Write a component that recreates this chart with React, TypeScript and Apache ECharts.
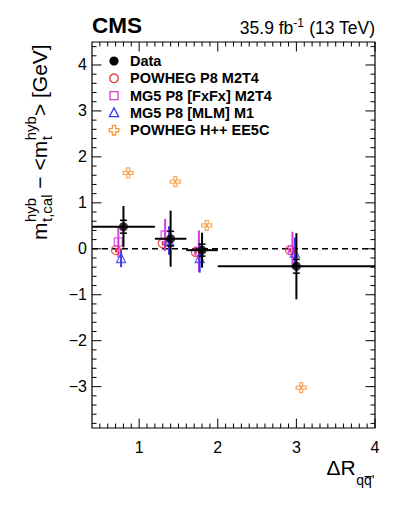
import React, { useEffect, useRef } from "react";
import * as echarts from "echarts";

// ---------------- data ----------------
const binLow = [0.4, 1.2, 1.6, 2.0];
const binHigh = [1.2, 1.6, 2.0, 4.0];
const dataX = [0.8, 1.4, 1.8, 3.0];
const dataY = [0.48, 0.22, -0.03, -0.38];
const dataTotErr = [0.45, 0.61, 0.38, 0.72];
const dataStatErr = [0.14, 0.16, 0.13, 0.15];

const p8X = [0.705, 1.3, 1.72, 2.92];
const p8Y = [-0.03, 0.12, -0.07, -0.03];
const p8Err = [0.05, 0.05, 0.05, 0.05];

const fxfxX = [0.735, 1.33, 1.76, 2.95];
const fxfxY = [0.15, 0.3, -0.05, -0.03];
const fxfxErr = [0.34, 0.35, 0.45, 0.4];

const mlmX = [0.77, 1.38, 1.77, 2.98];
const mlmY = [-0.2, 0.18, -0.2, -0.085];
const mlmErr = [0.2, 0.31, 0.32, 0.33];

const hppX = [0.86, 1.46, 1.86, 3.06];
const hppY = [1.65, 1.46, 0.51, -3.02];
const hppErr = [0.04, 0.04, 0.04, 0.04];

const xTickLabels = [1, 2, 3, 4];
const yTickLabels = [-3, -2, -1, 0, 1, 2, 3, 4];

const seriesNames = [
  "Data",
  "POWHEG P8 M2T4",
  "MG5 P8 [FxFx] M2T4",
  "MG5 P8 [MLM] M1",
  "POWHEG H++ EE5C",
];

// ---------------- style ----------------
const X_MIN = 0.4;
const X_MAX = 4;
const Y_MIN = -3.9;
const Y_MAX = 4.5;
const FONT = '"Liberation Sans", Arial, Helvetica, sans-serif';
const RED = "#e4323c";
const MAGENTA = "#d23fd8";
const BLUE = "#3a3af0";
const ORANGE = "#f8963a";
const CROSS = "path://M3.5,0 H6.5 V3.5 H10 V6.5 H6.5 V10 H3.5 V6.5 H0 V3.5 H3.5 Z";

function measure(text: string, size: number, weight = "normal") {
  const c = document.createElement("canvas").getContext("2d")!;
  c.font = `${weight} ${size}px ${FONT}`;
  return c.measureText(text).width;
}

function txt(text: string, x: number, baseline: number, size: number, weight = "normal", align = "left") {
  return {
    type: "text",
    x,
    y: baseline - 0.35 * size,
    silent: true,
    style: {
      text,
      font: `${weight} ${size}px ${FONT}`,
      fill: "#000",
      align,
      verticalAlign: "middle",
    },
  };
}

function buildYTitle() {
  const F = 21;
  const S = 15;
  const supY = -11;
  const subY = 5;
  const children: any[] = [];
  let x = 0;
  children.push(txt("m", x, 0, F));
  x += measure("m", F) + 0.5;
  children.push(txt("hyb", x, supY, S));
  children.push(txt("t,cal", x, subY, S));
  x += Math.max(measure("hyb", S), measure("t,cal", S));
  const mid = " \u2212 <m";
  children.push(txt(mid, x, 0, F));
  x += measure(mid, F) + 0.5;
  children.push(txt("hyb", x, supY, S));
  children.push(txt("t", x, subY, S));
  x += Math.max(measure("hyb", S), measure("t", S));
  children.push(txt("> [GeV]", x, 0, F));
  return { type: "group", x: 47, y: 240, rotation: Math.PI / 2, children };
}

function buildXTitle() {
  const F = 21;
  const S = 14;
  const children: any[] = [];
  let x = 326.5;
  children.push(txt("\u0394R", x, 475, F));
  x += measure("\u0394R", F) + 0.5;
  children.push(txt("q", x, 485, S));
  x += measure("q", S);
  const qw = measure("q", S);
  children.push({
    type: "line",
    silent: true,
    shape: { x1: x + 0.5, y1: 476.5, x2: x + qw, y2: 476.5 },
    style: { stroke: "#000", lineWidth: 1 },
  });
  children.push(txt("q'", x, 485, S));
  return children;
}

function buildLegend() {
  const cx = 114;
  const rows = [61, 78.3, 95.6, 112.9, 130.2];
  const els: any[] = [];
  const hs = (c: string) => ({ fill: "none", stroke: c, lineWidth: 1.3 });
  els.push({ type: "circle", silent: true, shape: { cx, cy: rows[0], r: 4.6 }, style: { fill: "#000" } });
  els.push({ type: "circle", silent: true, shape: { cx, cy: rows[1], r: 4.3 }, style: hs(RED) });
  els.push({ type: "rect", silent: true, shape: { x: cx - 4, y: rows[2] - 4, width: 8, height: 8 }, style: hs(MAGENTA) });
  els.push({
    type: "polygon",
    silent: true,
    shape: { points: [[cx, rows[3] - 5], [cx + 4.6, rows[3] + 3.8], [cx - 4.6, rows[3] + 3.8]] },
    style: hs(BLUE),
  });
  const r = rows[4];
  const a = 1.6;
  const b = 4.8;
  els.push({
    type: "polygon",
    silent: true,
    shape: {
      points: [
        [cx - a, r - b], [cx + a, r - b], [cx + a, r - a], [cx + b, r - a], [cx + b, r + a], [cx + a, r + a],
        [cx + a, r + b], [cx - a, r + b], [cx - a, r + a], [cx - b, r + a], [cx - b, r - a], [cx - a, r - a],
      ],
    },
    style: hs(ORANGE),
  });
  seriesNames.forEach((n, i) => {
    els.push(txt(n, 130, rows[i] + 5.2, 14.5, "bold"));
  });
  return els;
}

function errorBarSeries(name: string, xs: number[], ys: number[], errs: number[], color: string, z: number) {
  return {
    type: "custom",
    name: name + " err",
    silent: true,
    z,
    data: xs.map((x, i) => [x, ys[i], errs[i]]),
    renderItem: (_p: any, api: any) => {
      const x = api.value(0);
      const y = api.value(1);
      const e = api.value(2);
      const a = api.coord([x, y + e]);
      const b = api.coord([x, y - e]);
      return {
        type: "line",
        shape: { x1: a[0], y1: a[1], x2: b[0], y2: b[1] },
        style: { stroke: color, lineWidth: 2 },
      };
    },
  };
}

function pts(xs: number[], ys: number[]) {
  return xs.map((x, i) => [x, ys[i]]);
}

export default function App() {
  const ref = useRef<HTMLDivElement>(null);
  useEffect(() => {
    if (!ref.current) return;
    const chart = echarts.init(ref.current, null, { renderer: "svg" });

    const xMinor: number[] = [];
    for (let k = 5; k < 40; k++) if (k % 10 !== 0) xMinor.push(k / 10);
    const yMinor: number[] = [];
    for (let k = -19; k <= 22; k++) if (k % 5 !== 0) yMinor.push(k / 5);

    const hollow = (c: string) => ({ color: "rgba(255,255,255,0)", borderColor: c, borderWidth: 1.3 });

    const option: any = {
      animation: false,
      grid: {
        left: 92,
        right: 24,
        top: 42,
        bottom: 88,
        show: true,
        borderColor: "#000",
        borderWidth: 1.2,
        backgroundColor: "transparent",
      },
      xAxis: {
        type: "value",
        min: X_MIN,
        max: X_MAX,
        axisLine: { show: false },
        axisTick: { show: false },
        splitLine: { show: false },
        axisLabel: {
          customValues: xTickLabels,
          formatter: (v: number) => (Number.isInteger(v) ? String(v) : ""),
          fontFamily: FONT,
          fontSize: 16,
          color: "#000",
          margin: 11,
        },
      },
      yAxis: {
        type: "value",
        min: Y_MIN,
        max: Y_MAX,
        axisLine: { show: false },
        axisTick: { show: false },
        splitLine: { show: false },
        axisLabel: {
          customValues: yTickLabels,
          formatter: (v: number) => (Number.isInteger(v) ? String(v).replace("-", "\u2212") : ""),
          fontFamily: FONT,
          fontSize: 16,
          color: "#000",
          margin: 5,
        },
      },
      graphic: [
        txt("CMS", 92, 33.3, 22.5, "bold"),
        {
          type: "text",
          x: 375,
          y: 27,
          silent: true,
          style: {
            text: "{a|35.9 fb}{s|-1}{a| (13 TeV)}",
            align: "right",
            verticalAlign: "middle",
            rich: {
              a: { fontFamily: FONT, fontSize: 17.5, fill: "#000", lineHeight: 20, verticalAlign: "bottom" },
              s: { fontFamily: FONT, fontSize: 12, fill: "#000", lineHeight: 20, verticalAlign: "top" },
            },
          },
        },
        buildYTitle(),
        ...buildXTitle(),
        ...buildLegend(),
      ],
      series: [
        {
          type: "custom",
          name: "ticks",
          silent: true,
          clip: false,
          z: 1,
          data: [[X_MIN, Y_MIN]],
          renderItem: (_p: any, api: any) => {
            const ch: any[] = [];
            const st = { stroke: "#000", lineWidth: 1 };
            const xt = (v: number, len: number) => {
              const b = api.coord([v, Y_MIN]);
              const t = api.coord([v, Y_MAX]);
              ch.push({ type: "line", shape: { x1: b[0], y1: b[1], x2: b[0], y2: b[1] - len }, style: st });
              ch.push({ type: "line", shape: { x1: t[0], y1: t[1], x2: t[0], y2: t[1] + len }, style: st });
            };
            const yt = (v: number, len: number) => {
              const l = api.coord([X_MIN, v]);
              const r = api.coord([X_MAX, v]);
              ch.push({ type: "line", shape: { x1: l[0], y1: l[1], x2: l[0] + len, y2: l[1] }, style: st });
              ch.push({ type: "line", shape: { x1: r[0], y1: r[1], x2: r[0] - len, y2: r[1] }, style: st });
            };
            xTickLabels.forEach((v) => xt(v, 9.5));
            xMinor.forEach((v) => xt(v, 4.5));
            yTickLabels.forEach((v) => yt(v, 9.5));
            yMinor.forEach((v) => yt(v, 4.5));
            return { type: "group", children: ch };
          },
        },
        {
          type: "line",
          name: "zero",
          silent: true,
          symbol: "none",
          z: 2,
          data: [
            [X_MIN, 0],
            [X_MAX, 0],
          ],
          lineStyle: { color: "#000", width: 1.5, type: [6, 4] },
        },
        errorBarSeries(seriesNames[1], p8X, p8Y, p8Err, RED, 3),
        errorBarSeries(seriesNames[2], fxfxX, fxfxY, fxfxErr, MAGENTA, 3),
        errorBarSeries(seriesNames[3], mlmX, mlmY, mlmErr, BLUE, 3),
        errorBarSeries(seriesNames[4], hppX, hppY, hppErr, ORANGE, 3),
        {
          type: "scatter",
          name: seriesNames[1],
          symbol: "circle",
          symbolSize: 9,
          z: 4,
          itemStyle: hollow(RED),
          data: pts(p8X, p8Y),
        },
        {
          type: "scatter",
          name: seriesNames[2],
          symbol: "rect",
          symbolSize: 8,
          z: 4,
          itemStyle: hollow(MAGENTA),
          data: pts(fxfxX, fxfxY),
        },
        {
          type: "scatter",
          name: seriesNames[3],
          symbol: "triangle",
          symbolSize: 9,
          z: 4,
          itemStyle: hollow(BLUE),
          data: pts(mlmX, mlmY),
        },
        {
          type: "scatter",
          name: seriesNames[4],
          symbol: CROSS,
          symbolSize: 10,
          z: 4,
          itemStyle: hollow(ORANGE),
          data: pts(hppX, hppY),
        },
        {
          type: "custom",
          name: "Data err",
          silent: true,
          z: 5,
          data: binLow.map((lo, i) => [dataX[i], dataY[i], lo, binHigh[i], dataTotErr[i], dataStatErr[i]]),
          renderItem: (_p: any, api: any) => {
            const x = api.value(0);
            const y = api.value(1);
            const lo = api.value(2);
            const hi = api.value(3);
            const tot = api.value(4);
            const stat = api.value(5);
            const st = { stroke: "#000", lineWidth: 2 };
            const pl = api.coord([lo, y]);
            const pr = api.coord([hi, y]);
            const pt = api.coord([x, y + tot]);
            const pb = api.coord([x, y - tot]);
            const su = api.coord([x, y + stat]);
            const sd = api.coord([x, y - stat]);
            return {
              type: "group",
              children: [
                { type: "line", shape: { x1: pl[0], y1: pl[1], x2: pr[0], y2: pr[1] }, style: st },
                { type: "line", shape: { x1: pt[0], y1: pt[1], x2: pb[0], y2: pb[1] }, style: st },
                { type: "line", shape: { x1: su[0] - 3.5, y1: su[1], x2: su[0] + 3.5, y2: su[1] }, style: { stroke: "#000", lineWidth: 1.5 } },
                { type: "line", shape: { x1: sd[0] - 3.5, y1: sd[1], x2: sd[0] + 3.5, y2: sd[1] }, style: { stroke: "#000", lineWidth: 1.5 } },
              ],
            };
          },
        },
        {
          type: "scatter",
          name: seriesNames[0],
          symbol: "circle",
          symbolSize: 9,
          z: 6,
          itemStyle: { color: "#000" },
          data: pts(dataX, dataY),
        },
      ],
    };
    chart.setOption(option);
    return () => chart.dispose();
  }, []);
  return <div ref={ref} style={{ width: 399, height: 516, position: "absolute", left: 0, top: 0 }} />;
}
